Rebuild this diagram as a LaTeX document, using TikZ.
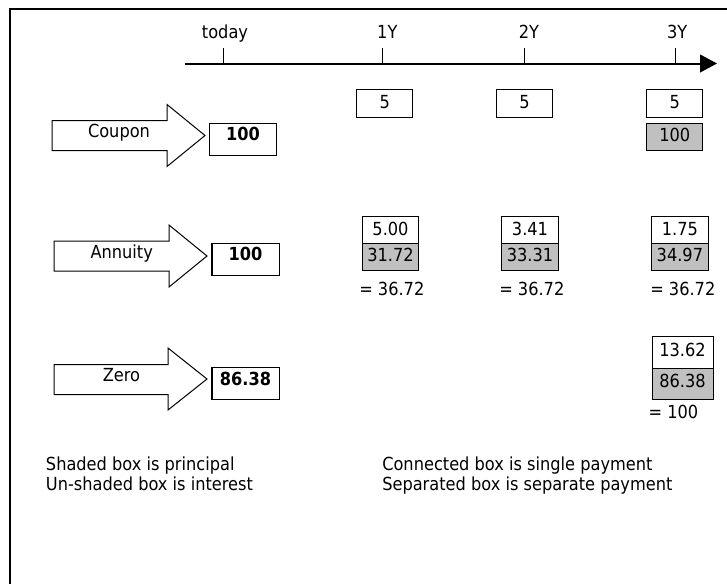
\documentclass[tikz,border=0pt]{standalone}
\usepackage{fontspec}
\setmainfont{DejaVu Sans}[FakeStretch=0.9]
\usetikzlibrary{arrows.meta}
\definecolor{principalgray}{HTML}{C0C0C0}
\tikzset{
	flowbox/.style={draw, line width=0.75pt, minimum width=42pt, anchor=base},
	principalbox/.style={flowbox, fill=principalgray},
	pricebox/.style={draw, line width=1.1pt, minimum width=50.6pt, text height=13pt, text depth=10.9pt, anchor=base, font=\fontsize{13.5pt}{16pt}\selectfont\bfseries},
	bondarrow/.style={draw, line width=0.75pt, line join=miter},
	plain/.style={anchor=base west},
}
\begin{document}
\begin{tikzpicture}[x=0.75pt, y=-0.75pt, inner sep=0pt, font=\fontsize{13.5pt}{16pt}\selectfont]
	\useasboundingbox (0,0) rectangle (727,583);
	\draw [line width=1.5pt, line join=miter] (9.5,600) -- (9.5,9) -- (740,9);
	\coordinate (axisstart) at (184.5,63.5);
	\coordinate (axisend) at (717,63.5);
	\draw [line width=1.5pt, -{Triangle[length=12.75pt, width=13.3pt]}] (axisstart) -- (axisend);
	\draw [line width=0.75pt] (223,48.3) -- (223,63.5);
	\draw [line width=0.75pt] (382.6,48.3) -- (382.6,63.5);
	\draw [line width=0.75pt] (524,48.3) -- (524,63.5);
	\draw [line width=0.75pt] (675.7,48.3) -- (675.7,63.5);
	\node [anchor=base] (today) at (225,38.5) {today};
	\node [anchor=base] (year1) at (387.3,38.5) {1Y};
	\node [anchor=base] (year2) at (529,38.5) {2Y};
	\node [anchor=base] (year3) at (677.2,38.5) {3Y};
	\draw [bondarrow] (52,120.5) -- (167,120.5) -- (167,104.5) -- (205,135.5) -- (167,166.5) -- (167,150.5) -- (52,150.5) -- cycle;
	\draw [bondarrow] (54,241) -- (169,241) -- (169,225) -- (207,256) -- (169,287) -- (169,271) -- (54,271) -- cycle;
	\draw [bondarrow] (54,364.5) -- (168,364.5) -- (168,348) -- (207,379) -- (168,410) -- (168,394.5) -- (54,394.5) -- cycle;
	\node [anchor=base] (couponname) at (119,137.5) {Coupon};
	\node [anchor=base] (annuityname) at (121.7,258) {Annuity};
	\node [anchor=base] (zeroname) at (121.5,381.5) {Zero};
	\node [pricebox] (couponprice) at (243,140.7) {100};
	\node [pricebox] (annuityprice) at (245.5,260.7) {100};
	\node [pricebox] (zeroprice) at (245.5,385) {86.38};
	\node [flowbox, text height=14.25pt, text depth=6.75pt] (coupon1) at (384.7,108.3) {5};
	\node [flowbox, text height=14.25pt, text depth=6.75pt] (coupon2) at (524.5,108.3) {5};
	\node [flowbox, text height=14.25pt, text depth=6.75pt] (coupon3) at (674.7,108.3) {5};
	\node [principalbox, text height=14pt, text depth=6.25pt] (coupon3p) at (674.7,141.7) {100};
	\node [flowbox, minimum width=42.4pt, text height=13.75pt, text depth=6.25pt] (annuity1) at (390.5,235) {5.00};
	\node [principalbox, minimum width=42.4pt, text height=13.75pt, text depth=6.25pt] (annuity1p) at (390.5,261.7) {31.72};
	\node [flowbox, minimum width=42.4pt, text height=13.75pt, text depth=6.25pt] (annuity2) at (530,235) {3.41};
	\node [principalbox, minimum width=42.4pt, text height=13.75pt, text depth=6.25pt] (annuity2p) at (530,261.7) {33.31};
	\node [flowbox, minimum width=42.4pt, text height=13.75pt, text depth=6.25pt] (annuity3) at (679.9,235) {1.75};
	\node [principalbox, minimum width=42.4pt, text height=13.75pt, text depth=6.25pt] (annuity3p) at (679.9,261.7) {34.97};
	\node [plain] (annuity1sum) at (359,295) {= 36.72};
	\node [plain] (annuity2sum) at (499,295) {= 36.72};
	\node [plain] (annuity3sum) at (650,295) {= 36.72};
	\node [flowbox, minimum width=45.75pt, text height=15pt, text depth=8.7pt] (zero3) at (682.5,356.7) {13.62};
	\node [principalbox, minimum width=45.75pt, text height=14.25pt, text depth=8.8pt] (zero3p) at (682.5,387.3) {86.38};
	\node [plain] (zero3sum) at (648.3,418.3) {= 100};
	\node [plain] (keyshaded) at (45.7,470) {Shaded box is principal};
	\node [plain] (keyunshaded) at (45.7,490) {Un-shaded box is interest};
	\node [plain] (keyconnected) at (382,470) {Connected box is single payment};
	\node [plain] (keyseparated) at (382,490) {Separated box is separate payment};
\end{tikzpicture}
\end{document}
